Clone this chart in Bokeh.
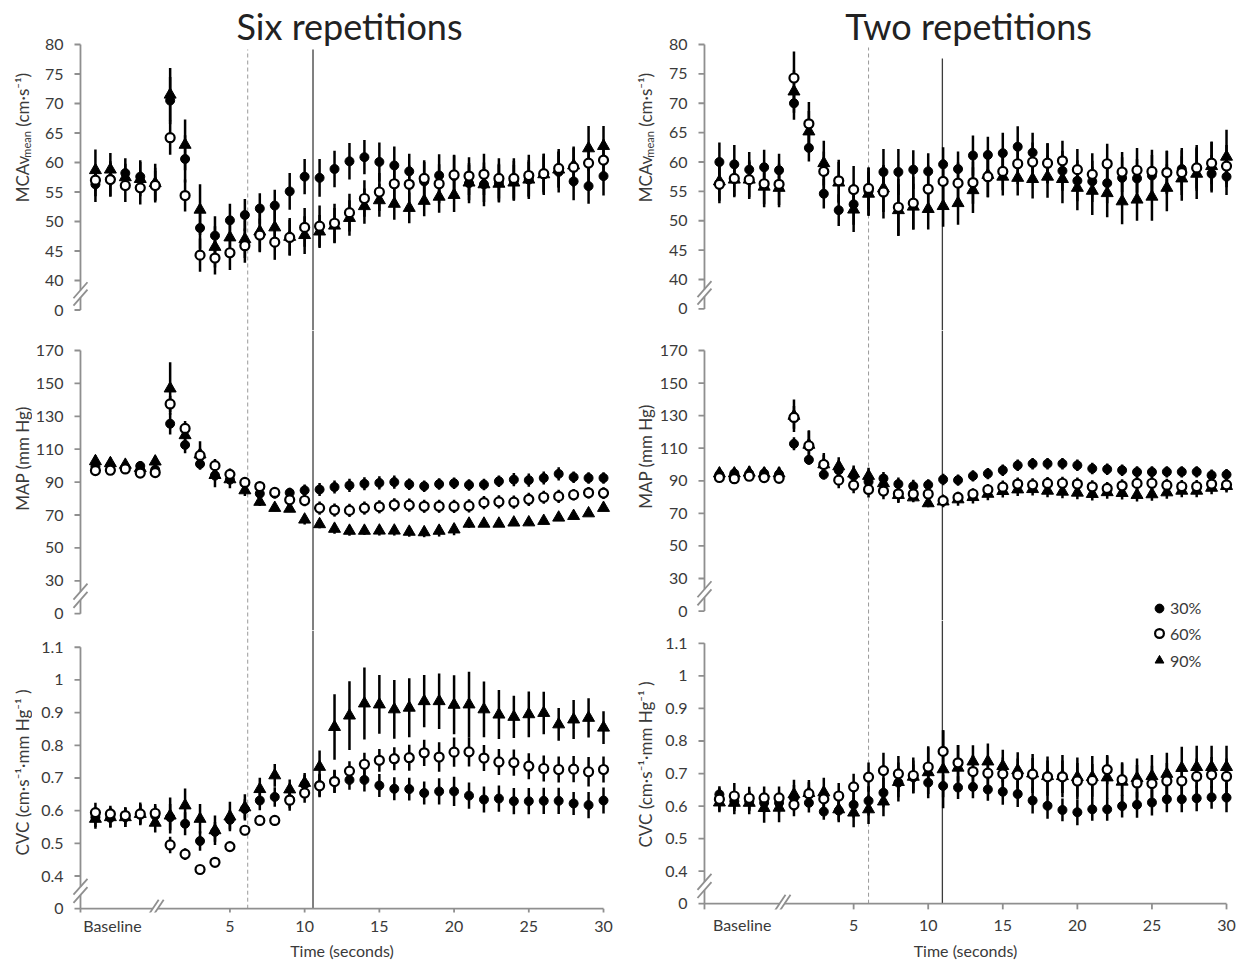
import math
from bokeh.plotting import figure
from bokeh.layouts import row, column
from bokeh.models import (Range1d, FixedTicker, Label, Legend, LegendItem,
                          ColumnDataSource)
from bokeh.embed import file_html
from bokeh.resources import INLINE

FONT = "Lato"
TEXT_COLOR = "#3a3a3a"
AXIS_COLOR = "#8f8f8f"

# ---------------- data ----------------
# five baseline samples (plotted at -4..0), then seconds 1..30
X_POS = [-4, -3, -2, -1, 0, 1, 2, 3, 4, 5, 6, 7, 8, 9, 10, 11, 12, 13, 14, 15,
         16, 17, 18, 19, 20, 21, 22, 23, 24, 25, 26, 27, 28, 29, 30]
X_TICKS = [5, 10, 15, 20, 25, 30]
X_TICK_LABELS = ["5", "10", "15", "20", "25", "30"]
BASELINE_LABEL = "Baseline"
X_TITLE = "Time (seconds)"
GROUPS = ["30%", "60%", "90%"]

MCA_TICKS = [40, 45, 50, 55, 60, 65, 70, 75, 80]
MCA_TICK_LABELS = ["40", "45", "50", "55", "60", "65", "70", "75", "80"]
MAP_TICKS = [30, 50, 70, 90, 110, 130, 150, 170]
MAP_TICK_LABELS = ["30", "50", "70", "90", "110", "130", "150", "170"]
CVC_TICKS = [0.4, 0.5, 0.6, 0.7, 0.8, 0.9, 1.0, 1.1]
CVC_TICK_LABELS = ["0.4", "0.5", "0.6", "0.7", "0.8", "0.9", "1", "1.1"]
ZERO_LABEL = "0"

# Six repetitions - MCAv mean
SIX_MCA_30 = [56.3, 57.2, 58.2, 57.6, 56.3, 70.5, 60.6, 48.9, 47.6, 50.2, 51.1, 52.2, 52.7, 55.1, 57.6,
              57.4, 58.9, 60.2, 60.9, 60.1, 59.5, 58.5, 56.8, 57.8, 57.7, 56.5, 56.3, 56.6, 56.9, 57.1,
              58.0, 58.4, 56.8, 56.0, 57.7]
SIX_MCA_60 = [57.0, 57.1, 56.1, 55.7, 56.1, 64.2, 54.4, 44.3, 43.8, 44.7, 45.9, 47.7, 46.5, 47.3, 49.0,
              49.2, 49.7, 51.5, 53.9, 55.0, 56.4, 56.3, 57.3, 56.4, 57.9, 57.7, 58.0, 57.3, 57.3, 57.8,
              58.1, 59.0, 59.2, 59.9, 60.4]
SIX_MCA_90 = [58.7, 58.8, 57.5, 57.2, 56.5, 71.5, 63.0, 52.0, 45.7, 47.3, 47.0, 48.3, 49.0, 47.4, 47.7,
              48.3, 49.3, 50.6, 52.6, 53.6, 53.0, 52.3, 53.5, 54.2, 54.5, 56.6, 56.3, 56.4, 56.6, 57.1,
              58.0, 58.8, 59.5, 62.4, 62.8]
SIX_MCA_30_ERR = [3.0, 3.0, 2.5, 2.8, 2.8, 4.0, 4.0, 3.5, 3.3, 2.8, 2.7, 2.6, 2.7, 3.1, 3.0,
                  3.2, 3.1, 3.1, 2.9, 3.3, 3.2, 3.0, 3.3, 3.6, 3.6, 3.4, 3.7, 3.2, 3.4, 3.3,
                  3.5, 3.5, 3.2, 3.0, 3.3]
SIX_MCA_60_ERR = [2.7, 2.8, 2.8, 2.8, 2.5, 2.9, 2.7, 2.8, 2.8, 2.9, 2.9, 2.8, 3.0, 3.0, 3.3,
                  3.5, 3.3, 3.2, 3.1, 3.2, 3.3, 3.2, 3.1, 3.3, 3.3, 3.2, 3.5, 3.4, 3.4, 3.5,
                  3.4, 3.3, 3.3, 3.4, 3.5]
SIX_MCA_90_ERR = [3.5, 2.8, 2.3, 2.9, 3.3, 4.5, 4.3, 4.3, 3.5, 3.5, 3.2, 3.5, 3.5, 3.2, 3.2,
                  2.8, 3.0, 3.0, 3.0, 2.8, 2.7, 2.6, 2.6, 2.7, 2.9, 3.0, 3.0, 3.2, 3.0, 3.0,
                  3.0, 3.0, 3.2, 3.8, 3.4]

# Two repetitions - MCAv mean
TWO_MCA_30 = [60.0, 59.6, 58.7, 59.1, 58.6, 70.0, 62.4, 54.6, 51.8, 52.8, 55.0, 58.3, 58.3, 58.7, 58.4,
              59.6, 58.8, 61.1, 61.2, 61.5, 62.6, 61.6, 59.8, 58.5, 56.8, 56.7, 56.4, 57.3, 57.2, 57.7,
              58.3, 58.8, 59.0, 58.0, 57.5]
TWO_MCA_60 = [56.2, 57.2, 57.0, 56.3, 56.2, 74.3, 66.5, 58.4, 56.8, 55.3, 55.5, 54.9, 52.3, 53.0, 55.4,
              56.7, 56.4, 56.5, 57.5, 58.4, 59.7, 60.0, 59.8, 60.2, 58.7, 57.9, 59.7, 58.3, 58.6, 58.4,
              58.2, 58.2, 59.0, 59.8, 59.3]
TWO_MCA_90 = [56.7, 57.0, 57.0, 55.8, 55.6, 72.0, 65.2, 59.8, 56.5, 51.9, 54.6, 55.5, 51.8, 52.4, 52.0,
              52.5, 53.0, 55.2, 57.8, 57.5, 57.3, 57.1, 57.5, 57.1, 55.6, 55.1, 54.7, 53.3, 53.6, 54.1,
              55.6, 57.2, 58.0, 59.3, 60.9]
TWO_MCA_30_ERR = [3.3, 3.3, 3.0, 3.0, 2.8, 2.8, 2.3, 2.5, 2.7, 3.5, 4.0, 3.9, 3.9, 3.3, 3.1,
                  2.9, 3.0, 3.4, 3.1, 3.5, 3.5, 3.4, 3.4, 3.4, 3.5, 3.5, 3.4, 3.5, 3.3, 3.5,
                  3.6, 3.6, 3.5, 3.2, 3.1]
TWO_MCA_60_ERR = [3.2, 3.0, 3.0, 3.5, 3.5, 4.5, 3.7, 3.4, 3.6, 4.0, 3.6, 4.5, 4.8, 4.5, 4.0,
                  3.8, 3.5, 3.6, 3.5, 3.2, 3.5, 3.3, 3.4, 3.4, 3.5, 3.6, 3.4, 3.4, 3.8, 3.7,
                  3.7, 3.8, 3.9, 3.6, 3.6]
TWO_MCA_90_ERR = [3.3, 3.0, 3.3, 3.5, 3.3, 3.6, 3.5, 3.8, 3.5, 3.8, 3.8, 4.0, 4.4, 3.9, 3.5,
                  3.5, 3.7, 3.9, 3.8, 3.2, 3.0, 3.3, 3.6, 4.1, 3.8, 4.1, 4.1, 3.9, 3.6, 4.1,
                  4.0, 3.8, 4.3, 4.2, 4.6]

# Six repetitions - MAP
SIX_MAP_30 = [99.5, 100.0, 99.0, 99.8, 97.5, 125.5, 112.6, 101.0, 94.0, 91.5, 89.5, 83.0, 83.0, 83.5, 85.0,
              85.5, 87.0, 88.0, 89.0, 89.5, 90.0, 88.7, 87.5, 88.8, 89.3, 88.3, 88.5, 90.5, 91.5, 91.2,
              92.5, 95.0, 93.0, 92.5, 92.5]
SIX_MAP_60 = [97.0, 97.2, 98.0, 95.5, 95.8, 137.5, 122.6, 106.2, 100.0, 94.7, 89.8, 87.3, 83.7, 79.2, 78.8,
              74.2, 73.0, 72.8, 74.2, 75.0, 76.2, 76.0, 75.3, 75.3, 75.2, 75.5, 77.5, 78.0, 77.8, 79.5,
              80.8, 81.3, 82.3, 83.5, 83.3]
SIX_MAP_90 = [102.7, 101.5, 100.5, 98.5, 102.5, 146.9, 118.5, 106.8, 94.3, 91.7, 85.0, 78.0, 74.3, 73.8, 67.2,
              64.4, 61.6, 60.4, 60.4, 60.5, 60.5, 59.8, 59.5, 60.4, 61.2, 64.7, 64.7, 64.7, 65.4, 65.5,
              66.4, 68.4, 69.4, 71.0, 74.3]
SIX_MAP_30_ERR = [3, 3, 2.5, 3, 3, 6.5, 5, 3.5, 3, 3, 3, 3, 3, 3, 3.5,
                  4, 4, 4, 4, 4, 4, 3.5, 3.5, 3.5, 3.5, 3.5, 3.5, 3.5, 4, 4,
                  4, 4, 3.5, 3.5, 3.5]
SIX_MAP_60_ERR = [2.5, 2.5, 2.5, 2.5, 2.5, 5, 4.5, 4, 4, 3.5, 3, 3, 3, 3.5, 3.5,
                  4, 4, 4, 4, 4, 4, 4, 4, 4, 4, 4, 4, 4, 4, 4,
                  4, 4, 3.5, 3.5, 3.5]
SIX_MAP_90_ERR = [3.5, 3.5, 2.5, 2.5, 3.5, 16, 5, 8, 7.5, 5.5, 3.5, 2.5, 2, 2, 3,
                  2.5, 3, 3, 2.5, 3, 3, 3, 3, 3.5, 3.5, 2.5, 2, 2, 2, 2,
                  2, 2, 1.5, 1.5, 1.5]

# Two repetitions - MAP
TWO_MAP_30 = [93.8, 94.5, 94.4, 94.5, 94.0, 112.7, 102.9, 93.8, 96.5, 93.0, 89.4, 91.4, 88.0, 86.7, 87.5,
              90.8, 90.4, 93.0, 94.4, 96.5, 99.5, 100.5, 100.5, 100.5, 99.5, 97.5, 97.1, 96.5, 95.4, 95.4,
              95.5, 95.5, 95.5, 93.4, 93.8]
TWO_MAP_60 = [92.0, 91.3, 92.8, 92.0, 91.5, 128.9, 111.5, 100.0, 90.4, 87.3, 84.7, 83.7, 82.0, 81.9, 81.9,
              77.8, 79.8, 81.9, 84.5, 86.1, 88.0, 87.5, 88.4, 88.5, 88.0, 86.3, 85.3, 86.9, 88.4, 88.5,
              87.3, 86.5, 86.5, 88.0, 87.5]
TWO_MAP_90 = [94.5, 94.5, 95.0, 94.5, 94.5, 129.9, 112.1, 100.1, 98.9, 94.4, 93.0, 88.5, 81.3, 79.8, 76.2,
              77.3, 78.6, 80.0, 82.0, 83.7, 84.7, 84.9, 83.9, 83.3, 82.7, 81.9, 83.0, 82.5, 81.3, 81.7,
              82.9, 83.9, 83.9, 85.7, 86.8]
TWO_MAP_30_ERR = [3, 3, 3, 3, 3, 4, 3, 3, 3, 3, 4, 4, 4, 4, 3.5,
                  3.5, 3.5, 3.5, 3.5, 3.5, 3.5, 3.5, 3.5, 3.5, 3.5, 3.5, 3.5, 3.5, 3.5, 3.5,
                  3.5, 3.5, 3.5, 3.5, 3.5]
TWO_MAP_60_ERR = [2.5, 2.5, 2.5, 2.5, 2.5, 7, 9, 6, 5, 5, 5, 5, 5, 4, 3.5,
                  3.5, 3.5, 3.5, 3.5, 4, 4, 4, 4, 4, 4, 4, 4, 4, 4, 4,
                  4, 4, 4, 4, 4]
TWO_MAP_90_ERR = [3.5, 3.5, 4, 4, 4, 10, 9, 7, 5.5, 5, 5, 5, 5, 3, 2.5,
                  3.5, 4, 4, 4, 4, 4, 4, 4, 4, 4, 4, 4, 4, 4, 4,
                  4, 4, 4, 4, 4]

# Six repetitions - CVC
SIX_CVC_30 = [0.580, 0.578, 0.580, 0.588, 0.585, 0.580, 0.560, 0.507, 0.535, 0.572, 0.605, 0.631, 0.642, 0.635, 0.680,
              0.678, 0.690, 0.694, 0.694, 0.677, 0.667, 0.666, 0.654, 0.659, 0.659, 0.646, 0.634, 0.637, 0.629, 0.629,
              0.630, 0.630, 0.622, 0.617, 0.631]
SIX_CVC_60 = [0.594, 0.590, 0.585, 0.590, 0.592, 0.495, 0.467, 0.420, 0.442, 0.490, 0.540, 0.570, 0.570, 0.632, 0.654,
              0.676, 0.689, 0.721, 0.742, 0.754, 0.759, 0.762, 0.777, 0.764, 0.779, 0.780, 0.761, 0.749, 0.747, 0.736,
              0.729, 0.726, 0.727, 0.719, 0.726]
SIX_CVC_90 = [0.575, 0.580, 0.580, 0.590, 0.563, 0.585, 0.616, 0.575, 0.540, 0.582, 0.610, 0.666, 0.708, 0.665, 0.685,
              0.734, 0.856, 0.891, 0.928, 0.925, 0.910, 0.915, 0.935, 0.935, 0.924, 0.925, 0.910, 0.894, 0.887, 0.895,
              0.899, 0.864, 0.879, 0.884, 0.854]
SIX_CVC_30_ERR = [0.03, 0.03, 0.03, 0.03, 0.03, 0.04, 0.035, 0.03, 0.03, 0.03, 0.03, 0.03, 0.03, 0.035, 0.03,
                  0.035, 0.035, 0.03, 0.035, 0.035, 0.035, 0.035, 0.035, 0.04, 0.045, 0.04, 0.04, 0.04, 0.04, 0.04,
                  0.04, 0.04, 0.035, 0.04, 0.04]
SIX_CVC_60_ERR = [0.03, 0.025, 0.025, 0.03, 0.028, 0.025, 0.018, 0.012, 0.012, 0.015, 0.015, 0.015, 0.015, 0.025, 0.03,
                  0.035, 0.035, 0.03, 0.035, 0.035, 0.035, 0.04, 0.04, 0.045, 0.045, 0.045, 0.04, 0.04, 0.04, 0.04,
                  0.04, 0.04, 0.04, 0.045, 0.04]
SIX_CVC_90_ERR = [0.03, 0.03, 0.03, 0.035, 0.03, 0.055, 0.052, 0.045, 0.045, 0.045, 0.04, 0.035, 0.035, 0.03, 0.03,
                  0.05, 0.1, 0.105, 0.11, 0.09, 0.09, 0.09, 0.08, 0.085, 0.09, 0.1, 0.085, 0.075, 0.065, 0.07,
                  0.065, 0.05, 0.06, 0.06, 0.05]

# Two repetitions - CVC
TWO_CVC_30 = [0.636, 0.615, 0.615, 0.610, 0.610, 0.625, 0.610, 0.583, 0.586, 0.604, 0.616, 0.641, 0.672, 0.688, 0.672,
              0.662, 0.657, 0.659, 0.651, 0.644, 0.637, 0.617, 0.601, 0.588, 0.581, 0.590, 0.590, 0.600, 0.604, 0.611,
              0.621, 0.621, 0.624, 0.627, 0.626]
TWO_CVC_60 = [0.621, 0.631, 0.624, 0.625, 0.625, 0.604, 0.638, 0.622, 0.631, 0.659, 0.689, 0.709, 0.699, 0.694, 0.720,
              0.768, 0.733, 0.706, 0.701, 0.699, 0.696, 0.698, 0.690, 0.690, 0.677, 0.679, 0.712, 0.681, 0.671, 0.669,
              0.677, 0.677, 0.691, 0.696, 0.691]
TWO_CVC_90 = [0.611, 0.610, 0.610, 0.594, 0.595, 0.636, 0.640, 0.642, 0.590, 0.580, 0.590, 0.614, 0.674, 0.690, 0.704,
              0.713, 0.718, 0.737, 0.737, 0.723, 0.710, 0.700, 0.692, 0.692, 0.689, 0.689, 0.688, 0.675, 0.686, 0.692,
              0.699, 0.717, 0.720, 0.720, 0.720]
TWO_CVC_30_ERR = [0.025, 0.03, 0.03, 0.03, 0.03, 0.04, 0.03, 0.025, 0.03, 0.04, 0.045, 0.045, 0.045, 0.04, 0.035,
                  0.035, 0.035, 0.035, 0.035, 0.04, 0.04, 0.04, 0.04, 0.035, 0.04, 0.035, 0.035, 0.035, 0.04, 0.04,
                  0.04, 0.04, 0.04, 0.035, 0.045]
TWO_CVC_60_ERR = [0.035, 0.04, 0.035, 0.035, 0.035, 0.035, 0.035, 0.035, 0.04, 0.04, 0.045, 0.055, 0.055, 0.055, 0.06,
                  0.065, 0.055, 0.05, 0.05, 0.05, 0.05, 0.05, 0.05, 0.05, 0.055, 0.05, 0.045, 0.05, 0.055, 0.055,
                  0.055, 0.055, 0.055, 0.055, 0.055]
TWO_CVC_90_ERR = [0.03, 0.035, 0.035, 0.045, 0.045, 0.045, 0.04, 0.045, 0.04, 0.045, 0.045, 0.045, 0.06, 0.05, 0.08,
                  0.12, 0.07, 0.05, 0.055, 0.05, 0.055, 0.06, 0.06, 0.065, 0.06, 0.065, 0.065, 0.06, 0.06, 0.065,
                  0.065, 0.065, 0.065, 0.065, 0.065]

DATA = {
    ("six", "mca"): [(SIX_MCA_30, SIX_MCA_30_ERR), (SIX_MCA_60, SIX_MCA_60_ERR), (SIX_MCA_90, SIX_MCA_90_ERR)],
    ("two", "mca"): [(TWO_MCA_30, TWO_MCA_30_ERR), (TWO_MCA_60, TWO_MCA_60_ERR), (TWO_MCA_90, TWO_MCA_90_ERR)],
    ("six", "map"): [(SIX_MAP_30, SIX_MAP_30_ERR), (SIX_MAP_60, SIX_MAP_60_ERR), (SIX_MAP_90, SIX_MAP_90_ERR)],
    ("two", "map"): [(TWO_MAP_30, TWO_MAP_30_ERR), (TWO_MAP_60, TWO_MAP_60_ERR), (TWO_MAP_90, TWO_MAP_90_ERR)],
    ("six", "cvc"): [(SIX_CVC_30, SIX_CVC_30_ERR), (SIX_CVC_60, SIX_CVC_60_ERR), (SIX_CVC_90, SIX_CVC_90_ERR)],
    ("two", "cvc"): [(TWO_CVC_30, TWO_CVC_30_ERR), (TWO_CVC_60, TWO_CVC_60_ERR), (TWO_CVC_90, TWO_CVC_90_ERR)],
}

KINDS = {
    "mca": dict(ticks=MCA_TICKS, labels=MCA_TICK_LABELS, zero_pos=35, step=5),
    "map": dict(ticks=MAP_TICKS, labels=MAP_TICK_LABELS, zero_pos=10, step=20),
    "cvc": dict(ticks=CVC_TICKS, labels=CVC_TICK_LABELS, zero_pos=0.3, step=0.1),
}

# ---------------- layout (page pixels) ----------------
COLS = {
    "six": dict(origin=0, col_w=620, strip_w=32, ax=79.0, x30=603.0, frame_l=69, frame_r=613,
                dash=6.19, solid=10.56, base_x=-2.86, xbreak=0.0, dash_top=49, solid_top=49,
                title="Six repetitions", title_x=348.5, ytitle_x=22, label_standoff=-3, xtitle_standoff=3),
    "two": dict(origin=620, col_w=626, strip_w=36, ax=703.0, x30=1226.0, frame_l=693, frame_r=1236,
                dash=6.0, solid=10.95, base_x=-2.47, xbreak=0.2, dash_top=47, solid_top=58,
                title="Two repetitions", title_x=967.5, ytitle_x=645, label_standoff=-1, xtitle_standoff=4),
}
GEOM = {
    ("six", "mca"): dict(fig_t=0, fig_b=330, frame_t=0, frame_b=330, px_top=44.0, px_low=280.0, ytitle_c=135),
    ("six", "map"): dict(fig_t=330, fig_b=630, frame_t=330, frame_b=630, px_top=350.0, px_low=580.3, ytitle_c=458),
    ("six", "cvc"): dict(fig_t=630, fig_b=962, frame_t=630, frame_b=916, px_top=647.0, px_low=879.0, ytitle_c=772),
    ("two", "mca"): dict(fig_t=0, fig_b=330, frame_t=0, frame_b=330, px_top=44.0, px_low=279.0, ytitle_c=135),
    ("two", "map"): dict(fig_t=330, fig_b=620, frame_t=330, frame_b=620, px_top=350.0, px_low=578.0, ytitle_c=456),
    ("two", "cvc"): dict(fig_t=620, fig_b=962, frame_t=620, frame_b=911, px_top=643.0, px_low=872.4, ytitle_c=764),
}
# rotated title pieces: (text, font size, sideways shift px, advance px along the text; None = single piece)
YTITLES = {
    "mca": [("MCAv", "17px", 0, 44.7), ("mean", "11px", 4, 31.0), ("(cm\u00b7s\u207b\u00b9)", "17px", 0, 58.0)],
    "map": [("MAP (mm Hg)", "17px", 0, None)],
    "cvc": [("CVC (cm\u00b7s\u207b\u00b9\u00b7mm Hg\u207b\u00b9 )", "17px", 0, None)],
}
MARKERS = [
    dict(marker="circle", size=9, fill_color="black", line_color="black", line_width=1),
    dict(marker="circle", size=9, fill_color="white", line_color="black", line_width=2.2),
    dict(marker="triangle", size=12, fill_color="black", line_color="black", line_width=1),
]


def y_title_strip(cname):
    """Narrow figure holding the rotated y-axis titles of one column."""
    c = COLS[cname]
    w = c["strip_w"]
    s = figure(width=w, height=962, x_range=Range1d(0, w), y_range=Range1d(962, 0),
               min_border_left=0, min_border_right=0, min_border_top=0, min_border_bottom=0,
               x_axis_location=None, y_axis_location=None, toolbar_location=None,
               output_backend="svg", title=None)
    s.outline_line_color = None
    s.grid.visible = False
    xc = c["ytitle_x"] - c["origin"]
    for kind in ("mca", "map", "cvc"):
        g = GEOM[(cname, kind)]
        parts = YTITLES[kind]
        if parts[0][3] is None:
            text, size, dx, _ = parts[0]
            s.add_layout(Label(x=xc, y=g["ytitle_c"], text=text, angle=math.pi / 2,
                               text_font=FONT, text_font_size=size, text_color=TEXT_COLOR,
                               text_align="center", text_baseline="middle"))
        else:
            total = sum(pp[3] for pp in parts)
            py = g["ytitle_c"] + total / 2
            for text, size, dx, wd in parts:
                s.add_layout(Label(x=xc + dx, y=py, text=text, angle=math.pi / 2,
                                   text_font=FONT, text_font_size=size, text_color=TEXT_COLOR,
                                   text_align="left", text_baseline="middle"))
                py -= wd
    return s


def build(cname, kind):
    c = COLS[cname]
    g = GEOM[(cname, kind)]
    k = KINDS[kind]
    ticks, zero_pos, step = k["ticks"], k["zero_pos"], k["step"]
    kx = (c["x30"] - c["ax"]) / 35.0
    ky = (g["px_low"] - g["px_top"]) / (ticks[-1] - ticks[0])

    def xd(px):
        return -5 + (px - c["ax"]) / kx

    def yd(py):
        return ticks[-1] - (py - g["px_top"]) / ky

    fig_left = c["origin"] + c["strip_w"]
    fig_w = c["col_w"] - c["strip_w"]
    bottom = kind == "cvc"
    p = figure(width=fig_w, height=g["fig_b"] - g["fig_t"],
               x_range=Range1d(xd(c["frame_l"]), xd(c["frame_r"])),
               y_range=Range1d(yd(g["frame_b"]), yd(g["frame_t"])),
               min_border_left=c["frame_l"] - fig_left, min_border_right=fig_left + fig_w - c["frame_r"],
               min_border_top=g["frame_t"] - g["fig_t"], min_border_bottom=g["fig_b"] - g["frame_b"],
               x_axis_location="below" if bottom else None,
               toolbar_location=None, output_backend="svg", title=None)
    p.outline_line_color = None
    p.grid.visible = False
    p.background_fill_color = "white"
    p.border_fill_color = "white"

    # y axis labels (line and ticks drawn by hand to allow the break)
    ya = p.yaxis[0]
    ya.ticker = FixedTicker(ticks=[zero_pos] + ticks)
    ov = {zero_pos: ZERO_LABEL}
    for t, l in zip(ticks, k["labels"]):
        ov[t] = l
    ya.major_label_overrides = ov
    ya.axis_line_color = None
    ya.major_tick_line_color = None
    ya.minor_tick_line_color = None
    ya.major_label_standoff = 1
    ya.major_label_text_font = FONT
    ya.major_label_text_font_size = "16px"
    ya.major_label_text_color = TEXT_COLOR

    ax_style = dict(line_color=AXIS_COLOR, line_width=1.8)
    brk_hi = ticks[0] - 0.33 * step
    brk_lo = ticks[0] - 0.58 * step
    p.segment(x0=[-5, -5], y0=[zero_pos, brk_hi], x1=[-5, -5], y1=[brk_lo, ticks[-1]], **ax_style)
    allt = [zero_pos] + ticks
    p.segment(x0=[xd(c["ax"] - 6)] * len(allt), y0=allt, x1=[-5] * len(allt), y1=allt, **ax_style)
    p.segment(x0=[xd(c["ax"] - 7)] * 2, y0=[brk_hi - 8 / ky, brk_lo - 8 / ky],
              x1=[xd(c["ax"] + 7)] * 2, y1=[brk_hi + 8 / ky, brk_lo + 8 / ky], **ax_style)

    # vertical markers
    if kind == "mca":
        d_top, s_top = yd(c["dash_top"]), yd(c["solid_top"])
    else:
        d_top = s_top = yd(g["frame_t"])
    low = zero_pos if bottom else yd(g["frame_b"])
    p.segment(x0=[c["dash"]], y0=[low], x1=[c["dash"]], y1=[d_top],
              line_color="#9a9a9a", line_width=1, line_dash="4 3")
    p.segment(x0=[c["solid"]], y0=[low], x1=[c["solid"]], y1=[s_top],
              line_color="#3c3c3c", line_width=1.3)

    if bottom:
        xb = c["xbreak"]
        gap = 2.5 / kx
        p.segment(x0=[-5, xb + gap], y0=[zero_pos] * 2, x1=[xb - gap, 30], y1=[zero_pos] * 2, **ax_style)
        xt = [-5] + X_TICKS
        p.segment(x0=xt, y0=[zero_pos] * len(xt), x1=xt, y1=[zero_pos - 6 / ky] * len(xt), **ax_style)
        p.segment(x0=[xb - gap - 6 / kx, xb + gap - 6 / kx], y0=[zero_pos - 9 / ky] * 2,
                  x1=[xb - gap + 6 / kx, xb + gap + 6 / kx], y1=[zero_pos + 9 / ky] * 2, **ax_style)
        xa = p.xaxis[0]
        xa.ticker = FixedTicker(ticks=[c["base_x"]] + X_TICKS)
        xov = {c["base_x"]: BASELINE_LABEL}
        for t, l in zip(X_TICKS, X_TICK_LABELS):
            xov[t] = l
        xa.major_label_overrides = xov
        xa.axis_line_color = None
        xa.major_tick_line_color = None
        xa.minor_tick_line_color = None
        xa.major_label_standoff = c["label_standoff"]
        xa.major_label_text_font = FONT
        xa.major_label_text_font_size = "16px"
        xa.major_label_text_color = TEXT_COLOR
        xa.axis_label = X_TITLE
        xa.axis_label_standoff = c["xtitle_standoff"]
        xa.axis_label_text_font = FONT
        xa.axis_label_text_font_size = "16px"
        xa.axis_label_text_font_style = "normal"
        xa.axis_label_text_color = TEXT_COLOR

    # data
    sources = []
    for vals, errs in DATA[(cname, kind)]:
        src = ColumnDataSource(dict(x=X_POS, y=vals,
                                    lo=[v - e for v, e in zip(vals, errs)],
                                    hi=[v + e for v, e in zip(vals, errs)]))
        sources.append(src)
        p.segment(x0="x", y0="lo", x1="x", y1="hi", source=src, line_color="black", line_width=2.5)
    rmap = {}
    for idx in (0, 2, 1):
        rmap[idx] = p.scatter(x="x", y="y", source=sources[idx], **MARKERS[idx])

    # column title (inside the extended top frame)
    if kind == "mca":
        p.add_layout(Label(x=xd(c["title_x"]), y=yd(25), text=c["title"], text_font=FONT,
                           text_font_size="36px", text_color="#222222", text_align="center",
                           text_baseline="middle"))

    # legend (split over the two right-hand lower panels); location = bottom-left from frame bottom-left
    leg_style = dict(background_fill_alpha=0, border_line_alpha=0, padding=0, margin=0, spacing=5,
                     label_text_font=FONT, label_text_font_size="16px", label_text_color=TEXT_COLOR,
                     glyph_width=22, glyph_height=22, label_height=22, label_standoff=0)
    lx = 1147 - c["frame_l"]
    if cname == "two" and kind == "map":
        leg = Legend(items=[LegendItem(label=GROUPS[0], renderers=[rmap[0]])],
                     location=(lx, g["frame_b"] - 618.7), **leg_style)
        p.add_layout(leg)
    if cname == "two" and kind == "cvc":
        leg = Legend(items=[LegendItem(label=GROUPS[1], renderers=[rmap[1]]),
                            LegendItem(label=GROUPS[2], renderers=[rmap[2]])],
                     location=(lx, g["frame_b"] - 673.3), **leg_style)
        p.add_layout(leg)
    return p


left = row(y_title_strip("six"),
           column(build("six", "mca"), build("six", "map"), build("six", "cvc"), spacing=0), spacing=0)
right = row(y_title_strip("two"),
            column(build("two", "mca"), build("two", "map"), build("two", "cvc"), spacing=0), spacing=0)
layout = row(left, right, spacing=0)

open("out.html", "w").write(file_html(layout, INLINE))
